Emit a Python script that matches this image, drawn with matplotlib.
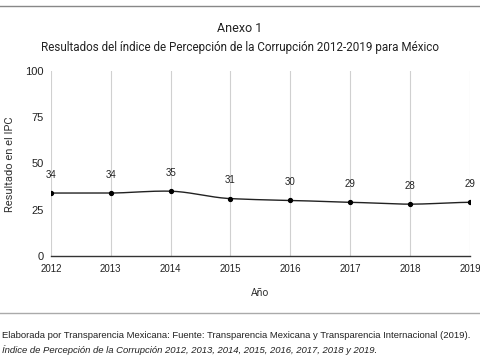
import numpy as np
import matplotlib
matplotlib.use("Agg")
import matplotlib.pyplot as plt
from matplotlib.lines import Line2D

years = [2012, 2013, 2014, 2015, 2016, 2017, 2018, 2019]
ipc = [34, 34, 35, 31, 30, 29, 28, 29]
yticks = [0, 25, 50, 75, 100]

title = "Anexo 1"
subtitle = "Resultados del índice de Percepción de la Corrupción 2012-2019 para México"
xlabel = "Año"
ylabel = "Resultado en el IPC"
foot1 = "Elaborada por Transparencia Mexicana: Fuente: Transparencia Mexicana y Transparencia Internacional (2019)."
foot2 = "Índice de Percepción de la Corrupción 2012, 2013, 2014, 2015, 2016, 2017, 2018 y 2019."

plt.rcParams['font.family'] = ['Roboto', 'DejaVu Sans']

fig = plt.figure(figsize=(4.8, 3.6), dpi=100)
ax = fig.add_axes([0.106, 0.289, 0.873, 0.514])

# smooth curve (cubic Hermite through data points)
x = np.array(years, dtype=float)
y = np.array(ipc, dtype=float)
xs, ys = [], []
px = np.concatenate([[x[0]], x, [x[-1]]])
py = np.concatenate([[y[0]], y, [y[-1]]])
t = np.linspace(0, 1, 20)
for i in range(1, len(px) - 2):
    p0, p1, p2, p3 = py[i-1], py[i], py[i+1], py[i+2]
    m1 = (p2 - p0) / 2 * 0.6
    m2 = (p3 - p1) / 2 * 0.6
    h00 = 2*t**3 - 3*t**2 + 1
    h10 = t**3 - 2*t**2 + t
    h01 = -2*t**3 + 3*t**2
    h11 = t**3 - t**2
    xs.extend(px[i] + t*(px[i+1]-px[i]))
    ys.extend(h00*p1 + h10*m1 + h01*p2 + h11*m2)
ax.plot(xs, ys, color='#222222', lw=1.0, zorder=3)
ax.plot(years, ipc, 'o', color='black', ms=2.8, zorder=4)

for xv, yv in zip(years, ipc):
    ax.annotate(str(yv), (xv, yv), xytext=(0, 9.5), textcoords='offset points',
                ha='center', va='bottom', fontsize=7, color='#222222',
                family=['Liberation Sans', 'DejaVu Sans'])

ax.set_xlim(2012, 2019)
ax.set_ylim(0, 100)
ax.set_yticks(yticks)
ax.set_xticks(years)
ax.set_xticklabels([str(v) for v in years], fontsize=7, color='#222222',
                   family=['Liberation Sans', 'DejaVu Sans'])
ax.set_yticklabels([str(v) for v in yticks], fontsize=8, color='#222222',
                   family=['Liberation Sans', 'DejaVu Sans'])
ax.tick_params(axis='y', length=0, pad=5)
ax.tick_params(axis='x', length=0, pad=5.5)
ax.grid(axis='x', color='#d0d0d0', lw=0.8)
ax.set_axisbelow(True)
for s in ['top', 'right', 'left']:
    ax.spines[s].set_visible(False)
ax.spines['bottom'].set_color('#333333')
ax.spines['bottom'].set_linewidth(1.0)

fig.text(0.021, 0.545, ylabel, rotation=90, ha='center', va='center', fontsize=8, color='#333333')
fig.text(0.542, 0.187, xlabel, ha='center', va='center', fontsize=7.5, color='#333333')
fig.text(0.5, 0.922, title, ha='center', va='center', fontsize=9, color='#222222')
fig.text(0.5, 0.869, subtitle, ha='center', va='center', fontsize=8.4, color='#222222')

fig.add_artist(Line2D([0, 1], [0.983, 0.983], color='#888888', lw=1.0))
fig.add_artist(Line2D([0, 1], [0.131, 0.131], color='#aaaaaa', lw=1.0))

fig.text(0.004, 0.069, foot1, ha='left', va='center', fontsize=6.8, color='#222222',
         family=['Liberation Sans', 'DejaVu Sans'])
fig.text(0.004, 0.028, foot2, ha='left', va='center', fontsize=6.8, color='#222222',
         style='italic', family=['Liberation Sans', 'DejaVu Sans'])

fig.savefig('out.png', dpi=100)
